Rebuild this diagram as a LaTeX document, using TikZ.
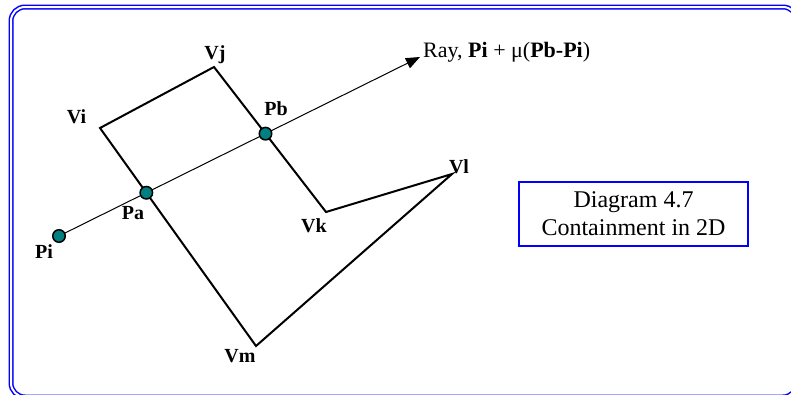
\documentclass[tikz,border=0pt]{standalone}
\usepackage{fontspec}
\setmainfont{Liberation Serif}
\usetikzlibrary{arrows.meta}
\definecolor{frameblue}{RGB}{0,0,255}
\definecolor{hitteal}{RGB}{0,128,128}

\begin{document}
\begin{tikzpicture}[x=1pt, y=-1pt,
    edge/.style={line width=2pt, line join=miter},
    ray/.style={line width=1pt},
    hit/.style={circle, draw=black, line width=1.5pt, fill=hitteal, minimum size=12.5pt, inner sep=0pt},
    vlabel/.style={anchor=base, inner sep=0pt, font=\fontsize{20}{24}\selectfont\bfseries}]
  \useasboundingbox (0,0) rectangle (791,394);
  \begin{scope}
    \clip (0,0) rectangle (791,394);
    \draw[frameblue, line width=1.5pt, double=white, double distance=2pt, rounded corners=14pt] (11,7) rectangle (797,397);
  \end{scope}
  % polygon
  \coordinate (vi) at (100,128);
  \coordinate (vj) at (214,67);
  \coordinate (vk) at (326,212);
  \coordinate (vl) at (452,174);
  \coordinate (vm) at (256,346);
  \draw[edge] (vi) -- (vj) -- (vk) -- (vl) -- (vm) -- cycle;
  % ray
  \coordinate (pi) at (59,236);
  \coordinate (tip) at (420,57);
  \draw[ray, -{Triangle[length=14pt, width=11pt]}] (pi) -- (tip);
  \coordinate (pa) at (intersection of vi--vm and pi--tip);
  \coordinate (pb) at (intersection of vj--vk and pi--tip);
  \node[hit] (dotpi) at (pi) {};
  \node[hit] (dotpa) at (pa) {};
  \node[hit] (dotpb) at (pb) {};
  % labels
  \node[vlabel] (lvi) at (76.5,123) {Vi};
  \node[vlabel] (lvj) at (215,59) {Vj};
  \node[vlabel] (lvk) at (314,232) {Vk};
  \node[vlabel] (lvl) at (459,173) {Vl};
  \node[vlabel] (lvm) at (240,362) {Vm};
  \node[vlabel] (lpa) at (133,219) {Pa};
  \node[vlabel] (lpb) at (276,115) {Pb};
  \node[vlabel] (lpi) at (44,258) {Pi};
  \node[anchor=base west, inner sep=0pt, font=\fontsize{22}{26}\selectfont] (raytext) at (423,57)
    {Ray, \textbf{Pi} + μ(\textbf{Pb-Pi})};
  \node[draw=frameblue, line width=2.5pt, minimum width=229pt, minimum height=64pt, align=center,
    inner sep=0pt, font=\fontsize{24}{28}\selectfont] (caption) at (633.5,214)
    {Diagram 4.7\\Containment in 2D};
\end{tikzpicture}
\end{document}
